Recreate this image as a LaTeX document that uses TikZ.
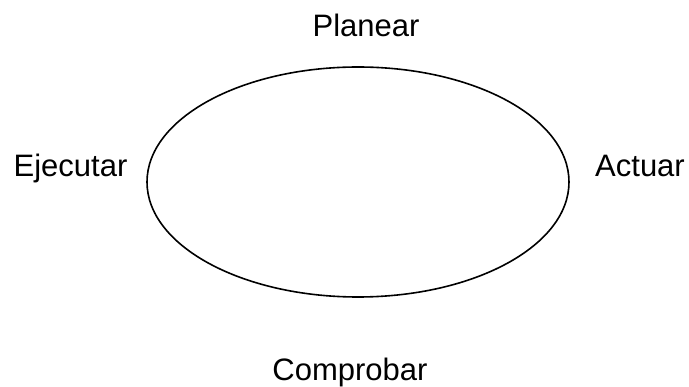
\documentclass[tikz,border=0pt]{standalone}
\usepackage{fontspec}
\setmainfont{Liberation Sans}
\usepackage{tikz}
\usetikzlibrary{shapes.geometric, positioning}

\begin{document}
\begin{tikzpicture}[x=1pt, y=-1pt,
    etapa/.style={anchor=base, inner sep=0pt, font=\fontsize{31}{37}\selectfont}]
  \useasboundingbox (0,0) rectangle (689,387);

  % ── Ciclo ──
  \node[draw, ellipse, line width=1.6pt, inner sep=0pt,
        minimum width=422pt, minimum height=230pt] (ciclo) at (358,182) {};

  % ── Etapas ──
  \node[etapa] (planear)   at (366,37)  {Planear};
  \node[etapa] (ejecutar)  at (70.5,177) {Ejecutar};
  \node[etapa] (actuar)    at (640,177) {Actuar};
  \node[etapa] (comprobar) at (350,381) {Comprobar};

\end{tikzpicture}
\end{document}
